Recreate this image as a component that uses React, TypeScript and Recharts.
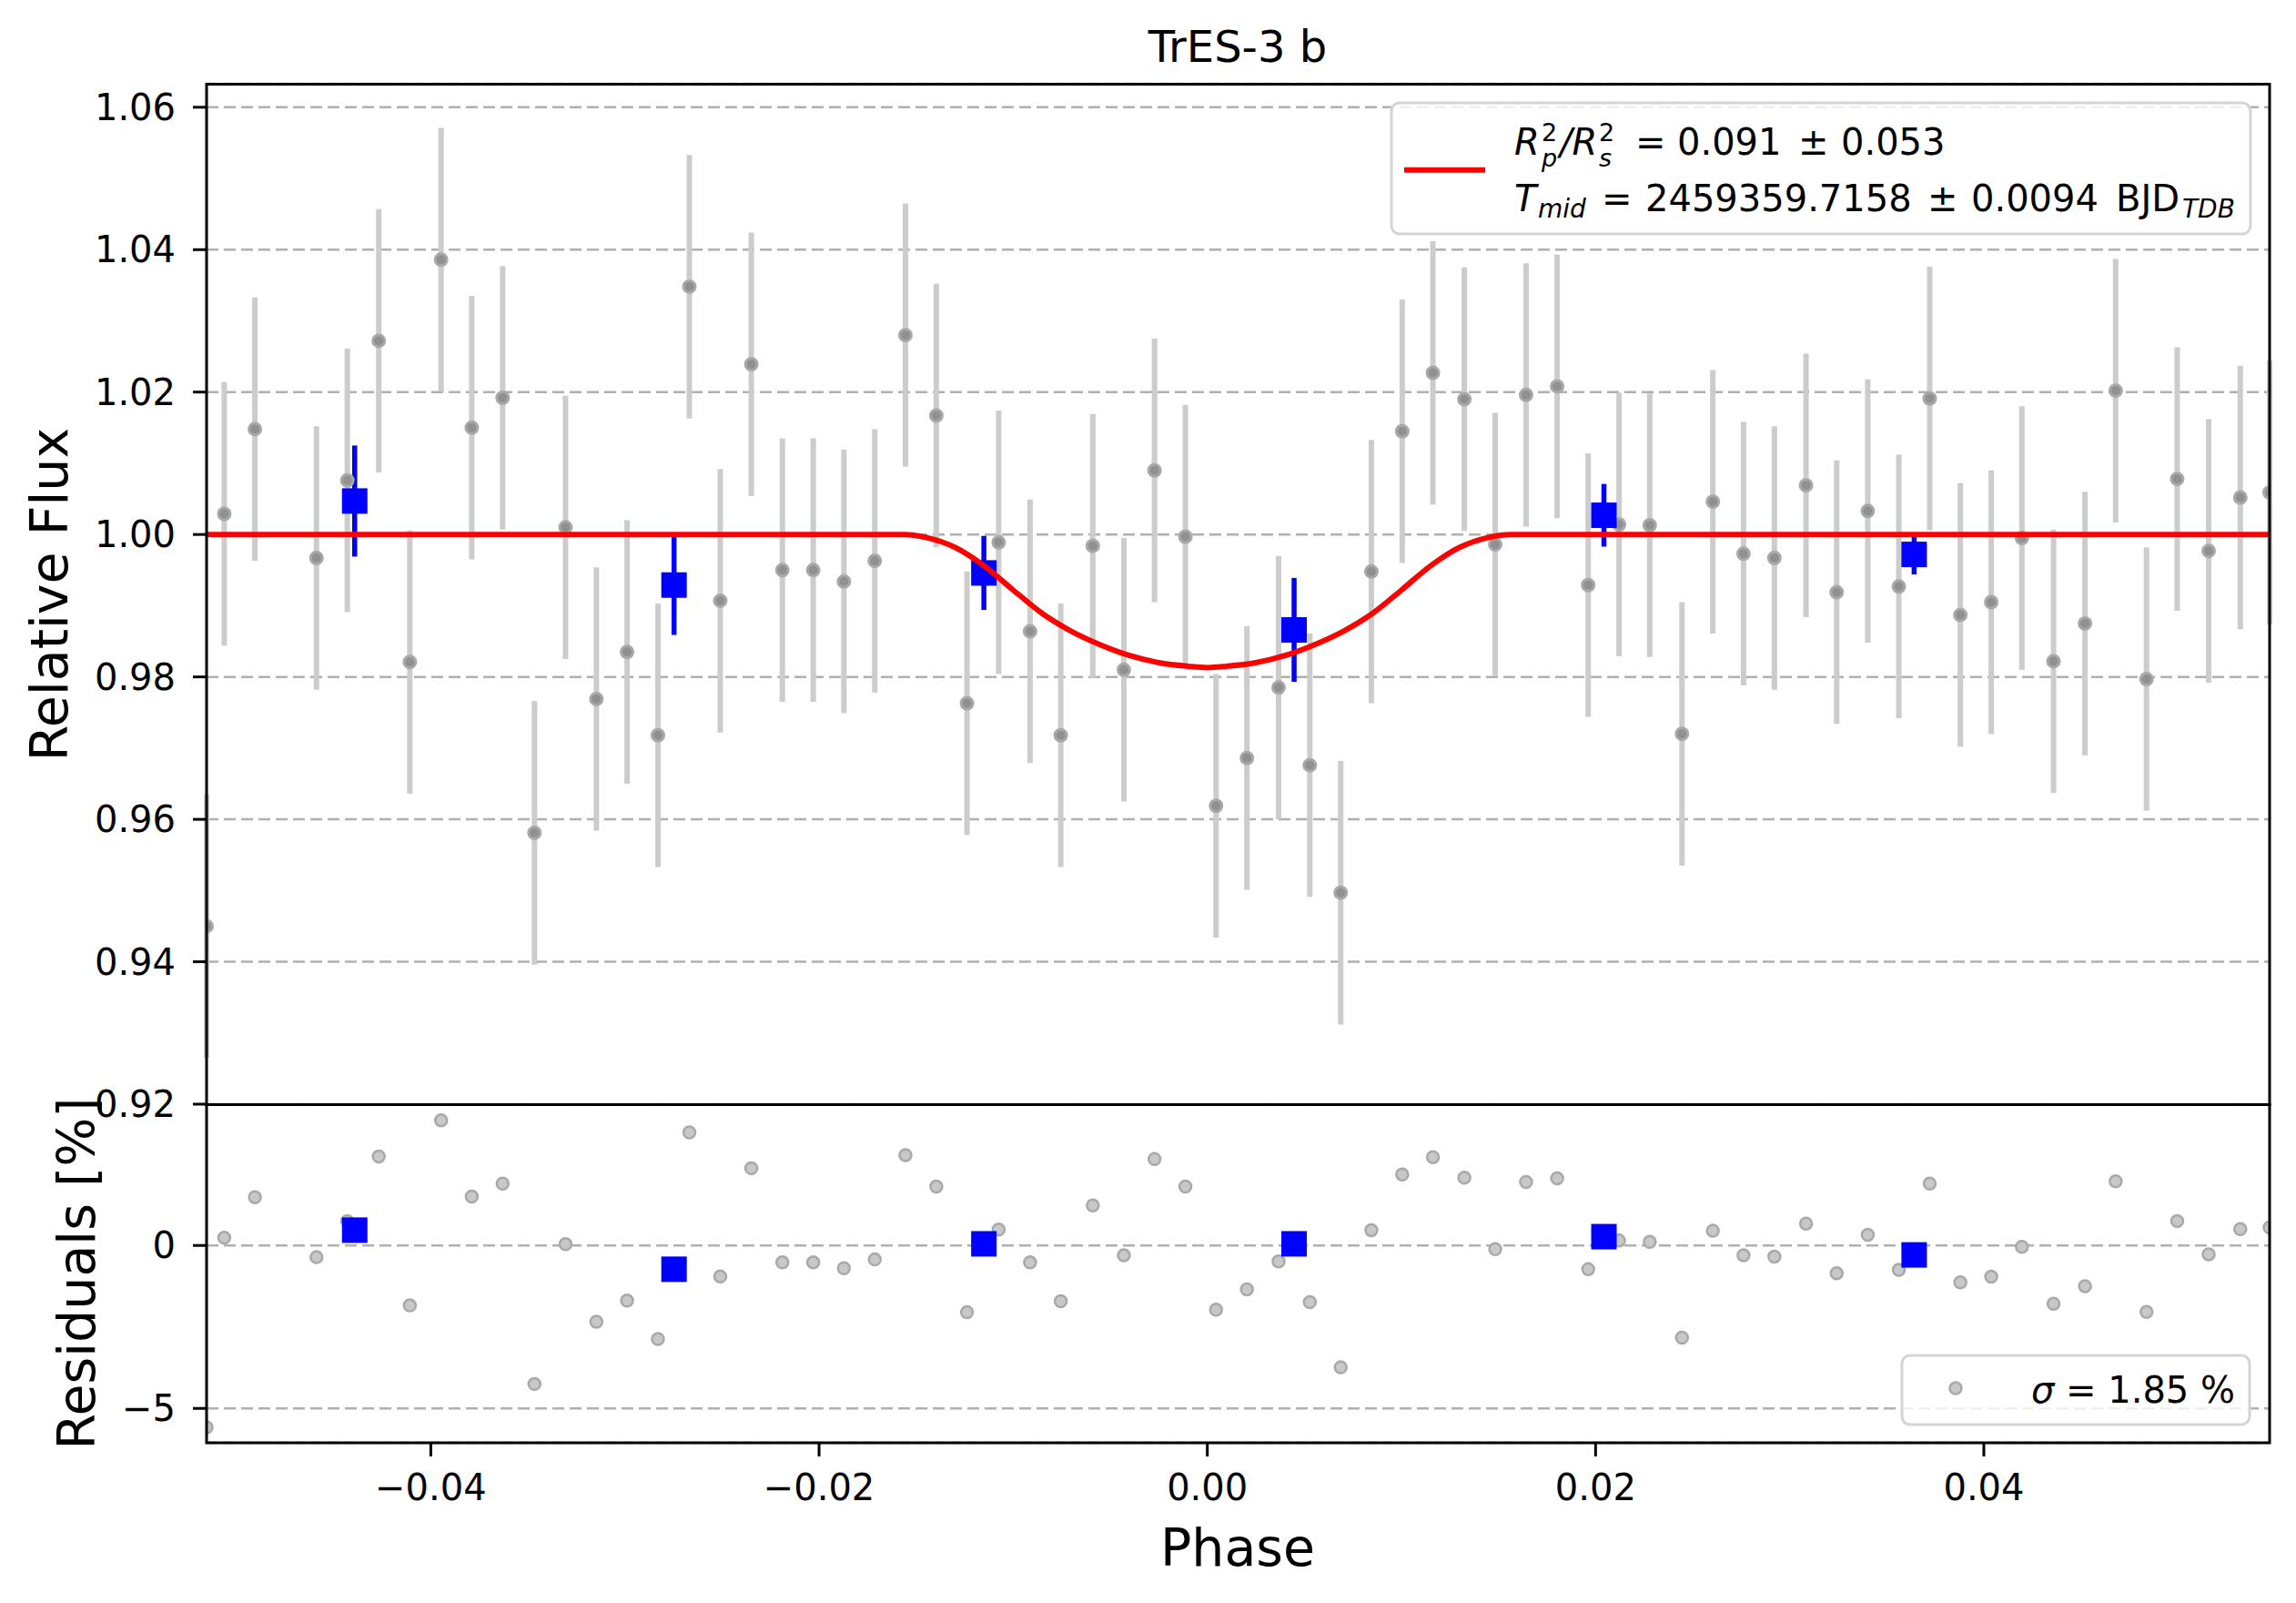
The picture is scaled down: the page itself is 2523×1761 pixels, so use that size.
import React from 'react';
import { CartesianGrid, ComposedChart, ErrorBar, Line, Scatter, XAxis, YAxis } from 'recharts';

// unbinned light curve (phase, relative flux, residual in %)
const phase = [
  -0.05155, -0.05064, -0.04906, -0.04589, -0.0443, -0.04268, -0.04108, -0.03947, -0.03789, -0.0363,
  -0.03466, -0.03306, -0.03147, -0.02989, -0.0283, -0.02668, -0.02509, -0.02349, -0.02189, -0.0203,
  -0.01872, -0.01713, -0.01555, -0.01396, -0.01238, -0.01075, -0.00913, -0.00755, -0.0059, -0.0043,
  -0.00272, -0.00113, 0.00045, 0.00204, 0.00367, 0.00528, 0.00687, 0.00845, 0.01004, 0.01162,
  0.01324, 0.01483, 0.01642, 0.01802, 0.01962, 0.02121, 0.02279, 0.02445, 0.02604, 0.02762,
  0.02921, 0.03084, 0.03242, 0.03402, 0.03562, 0.03721, 0.03879, 0.04038, 0.04196, 0.04359,
  0.04521, 0.04679, 0.04838, 0.04996, 0.05158, 0.05321, 0.05472,
];
const flux = [
  0.945, 1.0029, 1.0148, 0.9967, 1.0076, 1.0272, 0.9821, 1.0386, 1.015, 1.0192,
  0.9581, 1.001, 0.9769, 0.9835, 0.9718, 1.0348, 0.9907, 1.0239, 0.995, 0.995,
  0.9934, 0.9963, 1.028, 1.0167, 0.9763, 0.9989, 0.9864, 0.9718, 0.9984, 0.981,
  1.009, 0.9997, 0.9619, 0.9686, 0.9785, 0.9676, 0.9497, 0.9948, 1.0145, 1.0227,
  1.019, 0.9986, 1.0196, 1.0208, 0.9929, 1.0014, 1.0013, 0.972, 1.0046, 0.9973,
  0.9967, 1.0069, 0.9919, 1.0033, 0.9927, 1.0191, 0.9887, 0.9905, 0.9995, 0.9822,
  0.9875, 1.0202, 0.9797, 1.0078, 0.9977, 1.0052, 1.0059,
];
const fluxError = 0.0185;
const residual = [
  -5.58, 0.24, 1.48, -0.36, 0.75, 2.73, -1.84, 3.84, 1.5, 1.9,
  -4.25, 0.04, -2.34, -1.69, -2.87, 3.47, -0.95, 2.37, -0.52, -0.52,
  -0.7, -0.43, 2.77, 1.81, -2.05, 0.49, -0.52, -1.71, 1.23, -0.3,
  2.65, 1.81, -1.97, -1.35, -0.49, -1.74, -3.74, 0.47, 2.18, 2.71,
  2.08, -0.11, 1.95, 2.06, -0.73, 0.15, 0.11, -2.83, 0.45, -0.3,
  -0.34, 0.67, -0.85, 0.33, -0.75, 1.9, -1.13, -0.96, -0.04, -1.79,
  -1.25, 1.97, -2.04, 0.75, -0.27, 0.5, 0.55,
];

// binned points
const binPhase = [-0.04392, -0.02747, -0.01151, 0.00447, 0.02043, 0.03641];
const binFlux = [1.0047, 0.9929, 0.9946, 0.9866, 1.0027, 0.9972];
const binError = [0.0078, 0.007, 0.0052, 0.0073, 0.0044, 0.0028];
const binResidual = [0.47, -0.73, 0.05, 0.05, 0.27, -0.29];

// transit model
const modelPhase = [
  -0.05155, -0.0156, -0.0145, -0.013, -0.0115, -0.01, -0.0085, -0.007, -0.0055, -0.004, -0.0025, -0.001, 0,
  0.001, 0.0025, 0.004, 0.0055, 0.007, 0.0085, 0.01, 0.0115, 0.013, 0.0145, 0.0156, 0.05472,
];
const modelFlux = [
  1, 1, 0.9996, 0.9982, 0.9956, 0.9922, 0.9889, 0.9864, 0.9845, 0.983, 0.982, 0.9815, 0.9813,
  0.9815, 0.982, 0.983, 0.9845, 0.9864, 0.9889, 0.9922, 0.9956, 0.9982, 0.9996, 1, 1,
];

const fluxTicks = [0.92, 0.94, 0.96, 0.98, 1.0, 1.02, 1.04, 1.06];
const residTicks = [-5, 0];
const phaseTicks = [-0.04, -0.02, 0, 0.02, 0.04];

const xDomain = [-0.05155, 0.05472];
const FONT = 'DejaVu Sans';

const points = phase.map((x, i) => ({ x, y: flux[i], err: fluxError }));
const residPoints = phase.map((x, i) => ({ x, y: residual[i] }));
const bins = binPhase.map((x, i) => ({ x, y: binFlux[i], err: binError[i] }));
const binResid = binPhase.map((x, i) => ({ x, y: binResidual[i] }));
const model = modelPhase.map((x, i) => ({ x, y: modelFlux[i] }));

const minus = (s: string) => s.replace('-', '\u2212');

const grayDot = (p: any) => (
  <circle cx={p.cx} cy={p.cy} r={6.5} fill="#909090" stroke="#a8a8a8" strokeWidth={3} />
);
const residDot = (p: any) => (
  <circle cx={p.cx} cy={p.cy} r={6.5} fill="#c8c8c8" stroke="#a9a9a9" strokeWidth={2.5} />
);
const blueSquare = (p: any) => (
  <rect x={p.cx - 14} y={p.cy - 14} width={28} height={28} fill="#0000ff" />
);
const noShape = () => <g />;

const tickStyle = { fontSize: 40, fill: '#000', fontFamily: FONT };
const tickLine = { stroke: '#000', strokeWidth: 3 };

const App = () => {
  return (
    <div style={{ position: 'absolute', left: 0, top: 0, width: 2523, height: 1761, background: '#fff' }}>
      <div style={{ position: 'absolute', left: 0, top: 0 }}>
        <ComposedChart width={2523} height={1240} margin={{ top: 92, right: 29, bottom: 27, left: 27 }}>
          <CartesianGrid vertical={false} strokeDasharray="13 6" stroke="#b0b0b0" strokeWidth={2.5} />
          <XAxis type="number" dataKey="x" domain={xDomain} allowDataOverflow hide />
          <YAxis
            type="number"
            dataKey="y"
            domain={[0.92, 1.0633]}
            ticks={fluxTicks}
            allowDataOverflow
            width={200}
            axisLine={false}
            tickLine={tickLine}
            tickSize={15}
            tickMargin={19}
            tick={tickStyle}
            tickFormatter={(v: number) => v.toFixed(2)}
          />
          <Scatter data={points} dataKey="y" shape={noShape} isAnimationActive={false}>
            <ErrorBar dataKey="err" direction="y" width={0} stroke="#cccccc" strokeWidth={6} />
          </Scatter>
          <Scatter data={points} dataKey="y" shape={grayDot} isAnimationActive={false} />
          <Scatter data={bins} dataKey="y" shape={noShape} isAnimationActive={false}>
            <ErrorBar dataKey="err" direction="y" width={0} stroke="#0000ff" strokeWidth={5.5} />
          </Scatter>
          <Scatter data={bins} dataKey="y" shape={blueSquare} isAnimationActive={false} />
          <Line
            data={model}
            dataKey="y"
            type="monotone"
            stroke="#ff0000"
            strokeWidth={6}
            dot={false}
            activeDot={false}
            isAnimationActive={false}
            zIndex={700}
          />
        </ComposedChart>
      </div>

      <div style={{ position: 'absolute', left: 0, top: 1213 }}>
        <ComposedChart width={2523} height={548} margin={{ top: 0, right: 29, bottom: 76, left: 27 }}>
          <CartesianGrid vertical={false} strokeDasharray="13 6" stroke="#b0b0b0" strokeWidth={2.5} />
          <XAxis
            type="number"
            dataKey="x"
            domain={xDomain}
            ticks={phaseTicks}
            allowDataOverflow
            height={100}
            axisLine={false}
            tickLine={tickLine}
            tickSize={15}
            tickMargin={20}
            tick={tickStyle}
            tickFormatter={(v: number) => minus(v.toFixed(2))}
          />
          <YAxis
            type="number"
            dataKey="y"
            domain={[-6.055, 4.336]}
            ticks={residTicks}
            allowDataOverflow
            width={200}
            axisLine={false}
            tickLine={tickLine}
            tickSize={15}
            tickMargin={19}
            tick={tickStyle}
            tickFormatter={(v: number) => minus(String(v))}
          />
          <Scatter data={residPoints} dataKey="y" shape={residDot} isAnimationActive={false} />
          <Scatter data={binResid} dataKey="y" shape={blueSquare} isAnimationActive={false} />
        </ComposedChart>
      </div>

      <svg
        width={2523}
        height={1761}
        style={{ position: 'absolute', left: 0, top: 0, pointerEvents: 'none' }}
        fontFamily={FONT}
      >
        {/* frames */}
        <rect x={227} y={92.5} width={2267} height={1121} fill="none" stroke="#000" strokeWidth={3} />
        <rect x={227} y={1213.5} width={2267} height={371.5} fill="none" stroke="#000" strokeWidth={3} />

        <text x={1360} y={68} fontSize={48} textAnchor="middle">TrES-3 b</text>
        <text x={1360} y={1720} fontSize={57} textAnchor="middle">Phase</text>
        <text transform="translate(74,653) rotate(-90)" fontSize={57} textAnchor="middle">Relative Flux</text>
        <text transform="translate(104,1399) rotate(-90)" fontSize={57} textAnchor="middle">Residuals [%]</text>

        {/* fit legend */}
        <rect x={1529} y={113} width={944} height={144} rx={9} fill="#fff" fillOpacity={0.8} stroke="#d4d4d4" strokeWidth={3} />
        <line x1={1543} x2={1632} y1={186.7} y2={186.7} stroke="#ff0000" strokeWidth={6} />
        <text fontSize={40}>
          <tspan x={1664} y={170} fontStyle="italic">R</tspan>
          <tspan x={1694} y={155} fontSize={27}>2</tspan>
          <tspan x={1694} y={183} fontSize={27} fontStyle="italic">p</tspan>
          <tspan x={1714} y={170} fontStyle="italic">/R</tspan>
          <tspan x={1757} y={155} fontSize={27}>2</tspan>
          <tspan x={1757} y={183} fontSize={27} fontStyle="italic">s</tspan>
          <tspan x={1797} y={170}>=</tspan>
          <tspan x={1843} y={170}>0.091</tspan>
          <tspan x={1976} y={170}>±</tspan>
          <tspan x={2023} y={170}>0.053</tspan>
        </text>
        <text fontSize={40}>
          <tspan x={1664} y={232} fontStyle="italic">T</tspan>
          <tspan x={1690} y={239} fontSize={28} fontStyle="italic">mid</tspan>
          <tspan x={1760} y={232}>=</tspan>
          <tspan x={1808} y={232}>2459359.7158</tspan>
          <tspan x={2118} y={232}>±</tspan>
          <tspan x={2166} y={232}>0.0094</tspan>
          <tspan x={2325} y={232}>BJD</tspan>
          <tspan x={2398} y={239} fontSize={28} fontStyle="italic">TDB</tspan>
        </text>

        {/* residual legend */}
        <rect x={2090} y={1489} width={382} height={76} rx={9} fill="#fff" fillOpacity={0.8} stroke="#d4d4d4" strokeWidth={3} />
        <circle cx={2149} cy={1525} r={6.5} fill="#c8c8c8" stroke="#a9a9a9" strokeWidth={2.5} />
        <text x={2456} y={1541} fontSize={40} textAnchor="end">
          <tspan fontStyle="italic">σ</tspan> = 1.85 %
        </text>
      </svg>
    </div>
  );
};

export default App;
